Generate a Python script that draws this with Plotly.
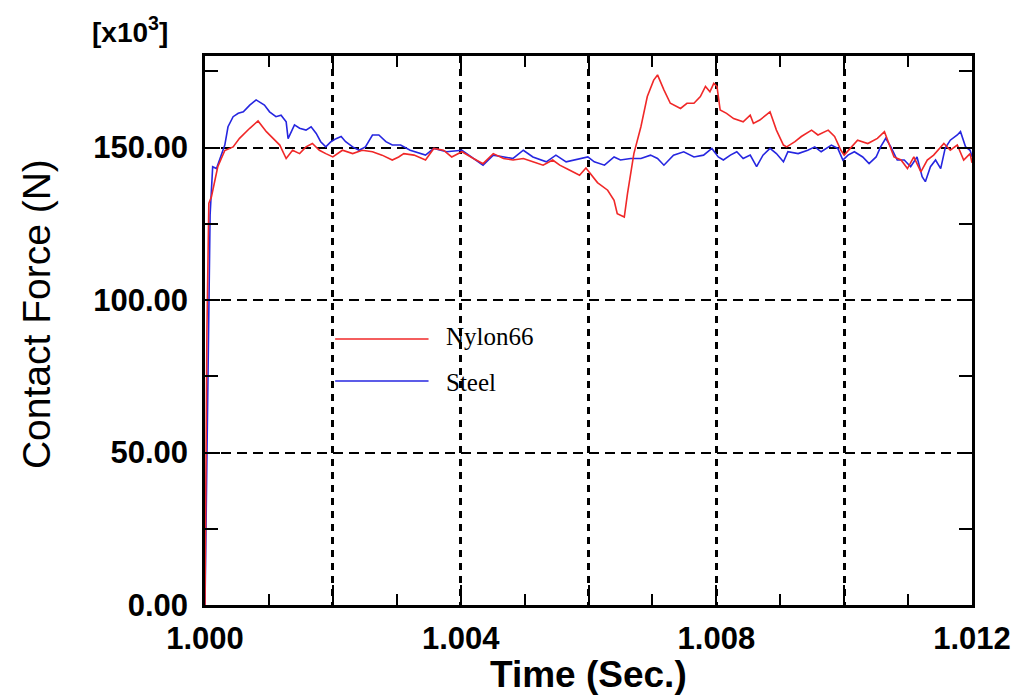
import plotly.graph_objects as go

# ---------------- data ----------------
nylon_t = [
    1.00000, 1.00003, 1.00006, 1.00010, 1.00020, 1.00031, 1.00044, 1.00054, 1.00070, 1.00083,
    1.00096, 1.00117, 1.00127, 1.00137, 1.00148, 1.00158, 1.00168, 1.00179, 1.00189, 1.00200,
    1.00215, 1.00231, 1.00246, 1.00262, 1.00277, 1.00293, 1.00303, 1.00311, 1.00327, 1.00345,
    1.00358, 1.00373, 1.00386, 1.00402, 1.00420, 1.00435, 1.00451, 1.00467, 1.00482, 1.00498,
    1.00513, 1.00529, 1.00544, 1.00555, 1.00570, 1.00586, 1.00596, 1.00614, 1.00630, 1.00640,
    1.00645, 1.00656, 1.00661, 1.00671, 1.00682, 1.00692, 1.00702, 1.00708, 1.00718, 1.00728,
    1.00744, 1.00754, 1.00765, 1.00775, 1.00783, 1.00790, 1.00796, 1.00801, 1.00806, 1.00816,
    1.00827, 1.00842, 1.00853, 1.00858, 1.00868, 1.00884, 1.00894, 1.00905, 1.00910, 1.00923,
    1.00933, 1.00949, 1.00959, 1.00975, 1.00985, 1.00995, 1.01000, 1.01011, 1.01021, 1.01037,
    1.01052, 1.01063, 1.01068, 1.01078, 1.01089, 1.01099, 1.01109, 1.01120, 1.01130, 1.01140,
    1.01156, 1.01166, 1.01177, 1.01187, 1.01197, 1.01200,
]
nylon_f = [
    0.0, 90.0, 131.7, 133.8, 143.7, 149.0, 150.2, 153.0, 156.3, 158.7,
    155.2, 150.8, 146.4, 149.1, 148.0, 150.2, 151.3, 149.1, 148.0, 146.9,
    149.1, 148.0, 149.1, 148.6, 147.5, 145.9, 146.9, 148.0, 147.5, 145.9,
    149.7, 149.1, 146.9, 148.6, 146.4, 144.7, 148.0, 146.4, 145.9, 146.4,
    145.3, 144.2, 145.9, 144.2, 142.6, 140.9, 143.3, 138.5, 136.0, 132.7,
    128.3, 127.2, 134.9, 148.0, 156.8, 166.7, 172.1, 173.8, 168.9, 164.5,
    162.8, 164.5, 164.5, 166.7, 170.0, 168.3, 171.0, 170.0, 162.3, 161.2,
    159.5, 158.4, 160.6, 157.9, 159.0, 161.7, 155.7, 150.8, 150.2, 151.9,
    153.6, 155.7, 154.1, 155.7, 153.6, 149.1, 147.5, 150.2, 152.4, 151.3,
    153.0, 155.2, 152.4, 146.9, 145.9, 143.1, 146.9, 142.0, 145.9, 147.5,
    151.3, 149.1, 150.8, 145.9, 148.0, 145.0,
]

steel_t = [
    1.00000, 1.00005, 1.00008, 1.00012, 1.00018, 1.00031, 1.00036, 1.00044, 1.00052, 1.00060,
    1.00070, 1.00080, 1.00093, 1.00101, 1.00111, 1.00119, 1.00127, 1.00130, 1.00140, 1.00148,
    1.00158, 1.00166, 1.00174, 1.00181, 1.00189, 1.00197, 1.00205, 1.00213, 1.00220, 1.00231,
    1.00241, 1.00251, 1.00262, 1.00272, 1.00283, 1.00293, 1.00306, 1.00321, 1.00345, 1.00358,
    1.00378, 1.00402, 1.00420, 1.00435, 1.00451, 1.00467, 1.00482, 1.00498, 1.00513, 1.00534,
    1.00549, 1.00565, 1.00580, 1.00599, 1.00609, 1.00625, 1.00640, 1.00650, 1.00666, 1.00682,
    1.00697, 1.00708, 1.00718, 1.00733, 1.00749, 1.00765, 1.00780, 1.00793, 1.00803, 1.00811,
    1.00822, 1.00832, 1.00842, 1.00853, 1.00863, 1.00873, 1.00884, 1.00894, 1.00905, 1.00912,
    1.00928, 1.00943, 1.00954, 1.00964, 1.00980, 1.00990, 1.00998, 1.01006, 1.01016, 1.01029,
    1.01039, 1.01050, 1.01057, 1.01065, 1.01073, 1.01083, 1.01094, 1.01104, 1.01114, 1.01122,
    1.01127, 1.01135, 1.01143, 1.01151, 1.01158, 1.01166, 1.01177, 1.01182, 1.01190, 1.01197,
    1.01200,
]
steel_f = [
    0.0, 86.0, 128.0, 143.7, 143.1, 150.8, 156.8, 160.1, 161.2, 161.7,
    163.9, 165.6, 163.9, 161.7, 160.1, 160.6, 158.4, 152.9, 157.4, 156.3,
    155.7, 156.8, 154.6, 151.9, 150.2, 151.9, 152.9, 153.6, 151.9, 150.2,
    149.1, 150.2, 154.1, 154.1, 151.9, 150.8, 150.8, 149.1, 147.5, 149.7,
    148.6, 149.1, 146.4, 144.2, 147.5, 146.9, 146.4, 149.1, 146.9, 145.3,
    147.5, 145.3, 145.9, 146.9, 145.3, 144.2, 146.9, 145.9, 146.4, 146.4,
    147.5, 146.4, 144.2, 147.5, 148.6, 146.9, 147.5, 149.7, 146.9, 145.9,
    147.5, 148.6, 146.4, 147.5, 143.7, 147.5, 149.7, 148.0, 145.3, 148.6,
    148.0, 149.1, 150.2, 148.6, 150.8, 149.7, 145.9, 147.5, 148.6, 146.9,
    144.7, 146.9, 150.2, 153.0, 150.2, 145.9, 145.9, 143.7, 146.9, 140.4,
    138.8, 143.7, 145.9, 143.1, 149.7, 152.4, 154.1, 155.2, 150.2, 149.1,
    147.0,
]

x_tickvals = [1.000, 1.002, 1.004, 1.006, 1.008, 1.010, 1.012]
x_ticktext = ["1.000", "", "1.004", "", "1.008", "", "1.012"]
series_names = ["Nylon66", "Steel"]
series_colors = ["#f02828", "#2626e0"]

# ---------------- figure ----------------
fig = go.Figure()
fig.add_trace(go.Scatter(x=steel_t, y=steel_f, mode="lines", name=series_names[1],
                         line=dict(color=series_colors[1], width=1.6), showlegend=False))
fig.add_trace(go.Scatter(x=nylon_t, y=nylon_f, mode="lines", name=series_names[0],
                         line=dict(color=series_colors[0], width=1.6), showlegend=False))

sans = "Liberation Sans, Arial, sans-serif"
serif = "Liberation Serif, Times New Roman, serif"

fig.update_xaxes(
    range=[1.0, 1.012], tickmode="array", tickvals=x_tickvals, ticktext=x_ticktext,
    ticks="inside", ticklen=20, tickwidth=2, tickcolor="black",
    showline=True, linewidth=2.5, linecolor="black", mirror="ticks",
    showgrid=True, gridcolor="black", gridwidth=2.5, griddash="7px,6px",
    zeroline=False,
    minor=dict(ticks="inside", ticklen=11, tickwidth=2, tickcolor="black",
               tickmode="linear", tick0=1.0, dtick=0.001, showgrid=False),
    tickfont=dict(family=sans, size=31, color="black", weight="bold"),
    ticklabelstandoff=4,
)
fig.update_yaxes(
    range=[0, 180], tickmode="linear", tick0=0, dtick=50, tickformat=".2f",
    ticks="inside", ticklen=15, tickwidth=2, tickcolor="black",
    showline=True, linewidth=2.5, linecolor="black", mirror="ticks",
    showgrid=True, gridcolor="black", gridwidth=1.5, griddash="10px,6px",
    zeroline=False,
    minor=dict(ticks="inside", ticklen=13, tickwidth=2, tickcolor="black",
               tickmode="linear", tick0=0, dtick=25, showgrid=False),
    tickfont=dict(family=sans, size=31, color="black", weight="bold"),
    ticklabelstandoff=8,
)

W, H = 1023, 698
L, R, T, B = 205, 46, 56, 93
pw, ph = W - L - R, H - T - B

def px(xp):
    return (xp - L) / pw

def py(yp):
    return (H - B - yp) / ph

# legend (drawn inside the plot)
fig.add_shape(type="line", xref="paper", yref="paper", x0=px(336), x1=px(430),
              y0=py(339), y1=py(339), line=dict(color=series_colors[0], width=1.6))
fig.add_shape(type="line", xref="paper", yref="paper", x0=px(336), x1=px(430),
              y0=py(381), y1=py(381), line=dict(color=series_colors[1], width=1.6))
fig.add_annotation(xref="paper", yref="paper", x=px(446), y=py(336), text=series_names[0],
                   showarrow=False, xanchor="left", yanchor="middle",
                   font=dict(family=serif, size=25, color="black"))
fig.add_annotation(xref="paper", yref="paper", x=px(446), y=py(382), text=series_names[1],
                   showarrow=False, xanchor="left", yanchor="middle",
                   font=dict(family=serif, size=25, color="black"))

# axis titles and multiplier
fig.add_annotation(xref="paper", yref="paper", x=px(591), y=py(674), text="Time (Sec.)",
                   showarrow=False, xanchor="center", yanchor="middle",
                   font=dict(family=sans, size=37, color="black", weight="bold"))
fig.add_annotation(xref="paper", yref="paper", x=px(35), y=py(314), text="Contact Force (N)",
                   showarrow=False, xanchor="center", yanchor="middle", textangle=-90,
                   font=dict(family=sans, size=39, color="black"))
fig.add_annotation(xref="paper", yref="paper", x=px(130), y=py(30), text="[x10<sup>3</sup>]",
                   showarrow=False, xanchor="center", yanchor="middle",
                   font=dict(family=sans, size=28, color="black", weight="bold"))

fig.update_layout(
    width=W, height=H, margin=dict(l=L, r=R, t=T, b=B),
    paper_bgcolor="white", plot_bgcolor="white", showlegend=False,
)

fig.write_html("out.html")
